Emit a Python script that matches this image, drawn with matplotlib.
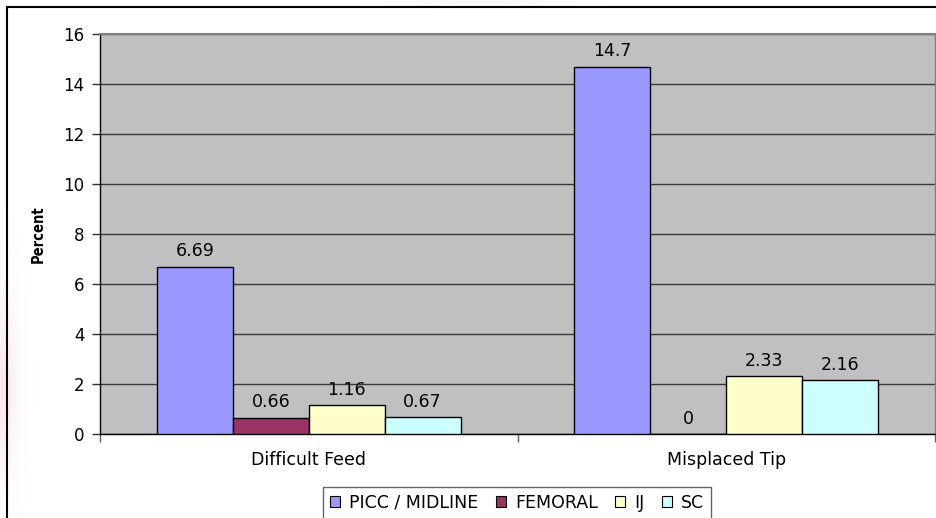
import numpy as np
import matplotlib
matplotlib.use("Agg")
import matplotlib.pyplot as plt
from matplotlib.patches import Patch
from matplotlib.lines import Line2D

plt.rcParams['font.family'] = ['DejaVu Sans']

categories = ["Difficult Feed", "Misplaced Tip"]
series_names = ["PICC / MIDLINE", "FEMORAL", "IJ", "SC"]
picc = [6.69, 14.7]
femoral = [0.66, 0]
ij = [1.16, 2.33]
sc = [0.67, 2.16]
series_values = [picc, femoral, ij, sc]
colors = ["#9999FF", "#993366", "#FFFFCC", "#CCFFFF"]
yticks = [0, 2, 4, 6, 8, 10, 12, 14, 16]

FS = 12.5
W, H = 937, 518
fig = plt.figure(figsize=(W / 100, H / 100), dpi=100)
fig.patch.set_facecolor("white")

# soft background haze along the left edge and near the top
haze = fig.add_axes([0, 0, 1, 1], zorder=-5)
haze.set_axis_off()
yy, xx = np.mgrid[0:H, 0:W]
img = np.ones((H, W, 4))
img[..., 0] = 0.95
img[..., 1] = 0.70
img[..., 2] = 0.78
img[..., 3] = np.exp(-((xx - 0) / 16.0) ** 2 - ((yy - 385) / 85.0) ** 2) * 0.3
rgba_grey = np.zeros((H, W, 4))
rgba_grey[..., :3] = 0.6
rgba_grey[..., 3] = np.exp(-((xx - 480) / 70.0) ** 2 - ((yy - 0) / 5.0) ** 2) * 0.08
haze.imshow(img, extent=[0, W, H, 0], aspect="auto", interpolation="bilinear")
haze.imshow(rgba_grey, extent=[0, W, H, 0], aspect="auto", interpolation="bilinear")
haze.set_xlim(0, W)
haze.set_ylim(H, 0)

# outer chart frame (left and top edges)
fx = 7.5 / W
fy = 1 - 6.5 / H
fig.add_artist(Line2D([fx, fx], [0, fy], color="black", lw=1.5, transform=fig.transFigure))
fig.add_artist(Line2D([fx, 1], [fy, fy], color="black", lw=1.5, transform=fig.transFigure))

left, right = 100 / W, 935 / W
bottom, top = 1 - 434 / H, 1 - 34 / H
ax = fig.add_axes([left, bottom, right - left, top - bottom])
ax.set_facecolor("#C0C0C0")

x = np.arange(len(categories))
w = 1 / 5.5
for i, (name, vals, c) in enumerate(zip(series_names, series_values, colors)):
    pos = x + (i - 1.5) * w
    ax.bar(pos, vals, width=w, color=c, edgecolor="black", linewidth=1.0,
           label=name, zorder=3)
    for xb, v in zip(pos, vals):
        ax.annotate(f"{v:g}", (xb, v), xytext=(0, 4.5), textcoords="offset points",
                    ha="center", va="bottom", fontsize=FS, color="black")

ax.set_xlim(-0.5, 1.5)
ax.set_ylim(0, 16)
ax.set_yticks(yticks)
ax.set_yticklabels([str(t) for t in yticks], fontsize=12)
ax.yaxis.grid(True, color="#3a3a3a", linewidth=1.0, zorder=1)
ax.set_axisbelow(True)
ax.tick_params(axis="y", length=6, width=1, color="#303030", pad=5)

ax.set_xticks(x)
ax.set_xticklabels(categories, fontsize=FS)
ax.set_xticks([-0.5, 0.5, 1.5], minor=True)
ax.tick_params(axis="x", which="major", length=0, pad=12)
ax.tick_params(axis="x", which="minor", length=6, width=1, color="#606060")

ax.spines["left"].set_color("black")
ax.spines["bottom"].set_color("black")
ax.spines["left"].set_linewidth(1.0)
ax.spines["bottom"].set_linewidth(1.0)
ax.spines["top"].set_color("#808080")
ax.spines["right"].set_color("#808080")
ax.spines["top"].set_linewidth(1.5)
ax.spines["right"].set_linewidth(1.0)

ax.set_ylabel("Percent", fontsize=10.5, fontweight="bold", fontstretch="condensed",
              labelpad=13)

handles = [Patch(facecolor=c, edgecolor="black", linewidth=0.8) for c in colors]
leg = fig.legend(handles, series_names, loc="center", bbox_to_anchor=(517 / W, 1 - 503 / H),
                 ncol=4, fontsize=FS, frameon=True, fancybox=False,
                 handlelength=0.6, handleheight=0.6, handletextpad=0.5,
                 columnspacing=1.0, borderpad=0.4, borderaxespad=0)
leg.get_frame().set_edgecolor("#404040")
leg.get_frame().set_linewidth(1.0)

fig.savefig("out.png", dpi=100)
